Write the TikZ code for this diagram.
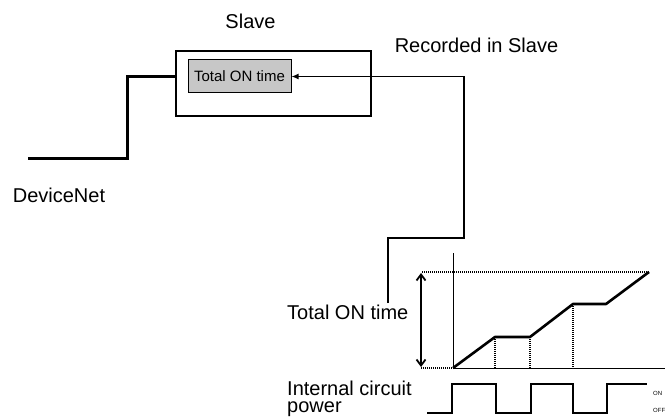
\documentclass[tikz,border=0pt]{standalone}
\usepackage{fontspec}
\setmainfont{Liberation Sans}
\usetikzlibrary{arrows.meta}
\tikzset{
  lbl/.style={inner sep=0pt, font=\fontsize{20}{24}\selectfont},
  tiny/.style={inner sep=0pt, font=\fontsize{6}{7}\selectfont},
  busline/.style={line width=3pt, line join=miter},
  wire/.style={line width=1.8pt},
  dotline/.style={line width=1.4pt, dash pattern=on 1pt off 1pt},
  curve/.style={line width=2.6pt, line join=round},
  sig/.style={line width=1.5pt},
}
\begin{document}
\begin{tikzpicture}[x=1pt,y=-1pt]
\useasboundingbox (0,0) rectangle (669,417);
\clip (0,0) rectangle (669,417);
% labels
\node[lbl, anchor=base] (slave) at (250.5,29) {Slave};
\node[lbl, anchor=base] (rec) at (476.5,53) {Recorded in Slave};
\node[lbl, anchor=base] (dn) at (59,202) {DeviceNet};
\node[lbl, anchor=base west] (ton) at (287,319) {Total ON time};
\node[lbl, font=\fontsize{20}{17}\selectfont, align=left, anchor=base west] (icp) at (287,412.3) {Internal circuit\\power};
\node[tiny, anchor=base west] (on) at (653,395) {ON};
\node[tiny, anchor=base west] (off) at (653,412) {OFF};
% slave box
\node[draw, line width=2pt, inner sep=0pt, minimum width=195, minimum height=65] (slavebox) at (273.5,83.5) {};
\node[draw, line width=1pt, fill=black!22, inner sep=0pt, minimum width=103, minimum height=33,
      font=\fontsize{15}{18}\selectfont] (tot) at (239.5,76.5) {Total ON time};
% DeviceNet bus
\coordinate (dn0) at (28,158);
\coordinate (dn1) at (127,158);
\draw[busline] (dn0) -- (dn1) |- (slavebox.west |- tot.east);
% recorded wire
\coordinate (w1) at (388,303);
\coordinate (w2) at (388,238);
\coordinate (w3) at (464,238);
\draw[wire, -{Latex[length=7pt,width=6pt]}] (w1) -- (w2) -- (w3) -- (w3 |- tot.east) -- (tot.east);
% chart
\coordinate (o) at (453,368);
\coordinate (vtop) at (453,253);
\coordinate (hend) at (665,368);
\coordinate (p1) at (495,337);
\coordinate (p2) at (530,337);
\coordinate (p3) at (573,304);
\coordinate (p4) at (606,304);
\coordinate (p5) at (649,272);
\coordinate (t0) at (422,272);
\coordinate (b0) at (421,368);
\draw[line width=1pt] (vtop) -- (o) -- (hend);
\draw[dotline] (b0) -- (o);
\draw[dotline] (t0) -- (p5);
\draw[line width=1.8pt, {Straight Barb[length=6pt,width=9pt]}-{Straight Barb[length=6pt,width=9pt]}] (421,273) -- (421,367);
\draw[dotline] (p1) -- (p1 |- o);
\draw[dotline] (p2) -- (p2 |- o);
\draw[dotline] (p3) -- (p3 |- o);
\draw[curve] (o) -- (p1) -- (p2) -- (p3) -- (p4) -- (p5);
% power signal
\draw[sig] (427,413) -- (452,413) -- (452,384) -- (496,384) -- (496,413) -- (531,413) -- (531,384)
  -- (573,384) -- (573,413) -- (607,413) -- (607,384) -- (647,384);
\end{tikzpicture}
\end{document}
